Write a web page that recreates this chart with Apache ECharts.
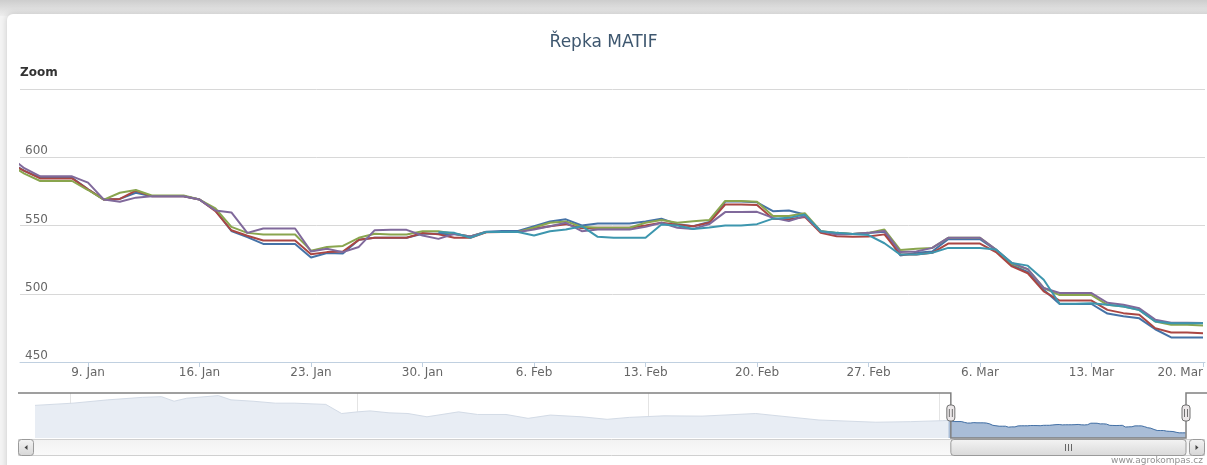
<!DOCTYPE html>
<html><head><meta charset="utf-8">
<script src="https://cdn.jsdelivr.net/npm/echarts@6/dist/echarts.min.js"></script>
<style>html,body{margin:0;padding:0;background:#fff;}#c{width:1207px;height:465px;}</style>
</head><body><div id="c"></div><script>
// ---- data ----
const dates = ['2023-01-04','2023-01-05','2023-01-06','2023-01-07','2023-01-08','2023-01-09','2023-01-10','2023-01-11','2023-01-12','2023-01-13',
'2023-01-14','2023-01-15','2023-01-16','2023-01-17','2023-01-18','2023-01-19','2023-01-20','2023-01-21','2023-01-22','2023-01-23',
'2023-01-24','2023-01-25','2023-01-26','2023-01-27','2023-01-28','2023-01-29','2023-01-30','2023-01-31','2023-02-01','2023-02-02',
'2023-02-03','2023-02-04','2023-02-05','2023-02-06','2023-02-07','2023-02-08','2023-02-09','2023-02-10','2023-02-11','2023-02-12',
'2023-02-13','2023-02-14','2023-02-15','2023-02-16','2023-02-17','2023-02-18','2023-02-19','2023-02-20','2023-02-21','2023-02-22',
'2023-02-23','2023-02-24','2023-02-25','2023-02-26','2023-02-27','2023-02-28','2023-03-01','2023-03-02','2023-03-03','2023-03-04',
'2023-03-05','2023-03-06','2023-03-07','2023-03-08','2023-03-09','2023-03-10','2023-03-11','2023-03-12','2023-03-13','2023-03-14',
'2023-03-15','2023-03-16','2023-03-17','2023-03-18','2023-03-19','2023-03-20'];

const blue = [597,590,585,585,585,576.5,569,569.5,574,571.5,
571.5,571.5,569,561,546,541.5,536.5,536.5,536.5,526.5,
529.8,529.5,539.5,541,541,541,544,544,543.5,542,
545.5,546,546,549.5,553,554.5,550,551.5,551.5,551.5,
553,555,551,549.5,552.5,567.5,567.5,567,560.5,561,
558,545.5,544.5,543.8,544.5,545.5,528,530,531,540,
540,540,532,521,516,503,492.5,492.5,492.5,485.5,
483.5,482,474,468,468,468];

const red = [596,590,584.5,584.5,584.5,576.5,569,569.5,575.5,571.5,
571.5,571.5,569,560.5,546.5,542.5,539,539,539,529,
530.5,531,539.5,541,541,541,544.5,543.5,541,541,
545,545.3,545.3,547.8,549.5,551,548,548.3,548.3,548.3,
550,552,550.5,549.5,552,565.4,565.4,565,555,554.6,
556.3,544.6,542.2,541.7,542,543.5,528.7,528.7,530,536.8,
536.8,536.8,530.5,520,515,501.7,495,495,495,488.2,
485.8,484.6,474.8,471.6,471.6,471];

const green = [595,588,582.6,582.6,582.6,576,569,574,576,572,
572,572,569,562.6,549,544.6,543.4,543.4,543.4,531.6,
534.3,535,541,543.9,543.4,543.4,545.8,545.8,544,542,
545.3,545.3,545.3,548.5,552,553,549,548.3,548.3,548.3,
552,554,552,553.2,554,568,568,567.4,556.9,557,
559,546,544.6,543.8,544.6,547,532,532.9,533.6,541,
541,541,532.4,522,518,504.2,499,499,499,491.9,
490.7,488.2,479.7,477.2,477.2,476.8];

const purple = [601,592,586,586,586,581.4,569,567.4,570.4,571.5,
571.5,571.5,569,561,559.6,544.6,547.8,547.8,547.8,531,
532.9,530.5,534.3,546.6,546.8,546.8,542.7,540.2,544,542,
545.3,545.3,545.3,547,549.5,552,545.8,547,547,547,
549,552,548.3,547.5,551,559.8,559.8,560,555.6,553.2,
557,545.8,543.4,543.8,544.6,546,530.5,531,533.6,541,
541,541,532.4,522.6,518,504.2,500.5,500.5,500.5,493.4,
492,489.4,481,478.8,478.8,478.5];

const cyan = [null,null,null,null,null,null,null,null,null,null,
null,null,null,null,null,null,null,null,null,null,
null,null,null,null,null,null,null,545.3,544.6,541,
545.3,545.3,545.3,542.7,545.8,547,549.5,541.7,541,541,
541,550.7,550,547.5,548.5,550,550,551,555,555.6,
558,545.8,544.6,543.8,543,537,528.7,528.7,530,533.6,
533.6,533.6,532.4,522.6,520.6,510.3,492.7,492.7,493,491.9,
490.7,488,479.7,478.4,478.4,478.4];

const seriesNames = ['Kontrakt 1','Kontrakt 2','Kontrakt 3','Kontrakt 4','Kontrakt 5'];

const xTickDates = ['2023-01-09','2023-01-16','2023-01-23','2023-01-30','2023-02-06','2023-02-13','2023-02-20','2023-02-27','2023-03-06','2023-03-13','2023-03-20'];
const xTickLabels = ['9. Jan','16. Jan','23. Jan','30. Jan','6. Feb','13. Feb','20. Feb','27. Feb','6. Mar','13. Mar','20. Mar'];

// navigator history (first series before the zoomed window)
const navDates = ['2022-03-21','2022-04-02','2022-04-13','2022-04-24','2022-04-30','2022-05-04','2022-05-08','2022-05-18','2022-05-22','2022-05-29',
'2022-06-05','2022-06-11','2022-06-21','2022-06-26','2022-07-01','2022-07-05','2022-07-11','2022-07-17','2022-07-23','2022-08-02',
'2022-08-08','2022-08-17','2022-08-24','2022-08-31','2022-09-10','2022-09-18','2022-09-25','2022-10-06','2022-10-18','2022-11-04',
'2022-11-12','2022-11-24','2022-12-12','2022-12-23','2023-01-02'];
const navValues = [752,775,809,835,842,795,826,853,809,795,
775,775,762,668,685,695,675,668,634,685,
658,658,618,652,634,608,628,644,641,668,
641,601,578,584,594];
const navTickDates = ['2022-04-01','2022-07-01','2022-10-01','2023-01-01'];
const navTickLabels = ["Apr '22","Jul '22","Oct '22","Jan '23"];

// ---- helpers ----
function ts(s){ const p=s.split('T'); const d=p[0].split('-').map(Number); let h=0,m=0; if(p[1]){const t=p[1].split(':').map(Number);h=t[0];m=t[1];} return Date.UTC(d[0],d[1]-1,d[2],h,m); }
const X = dates.map(ts);
const xMin = ts('2023-01-04T17:30'), xMax = ts('2023-03-20T03:00');
const navMin = ts('2022-03-21'), navMax = xMax;
const xTickTs = xTickDates.map(ts), navTickTs = navTickDates.map(ts);
function lookup(arr, labels, v){ for(let i=0;i<arr.length;i++){ if(Math.abs(arr[i]-v)<60000) return labels[i]; } return ''; }
const pair = vals => X.map((x,i)=>[x, vals[i]]);

const colors = ['#4572A7','#AA4643','#89A54E','#80699B','#3D96AE'];
const FONT = '"DejaVu Sans", "Lucida Grande", sans-serif';
const lineSeries = [blue,red,green,purple,cyan].map((v,i)=>({
  name: seriesNames[i], type:'line', xAxisIndex:0, yAxisIndex:0, data: pair(v),
  showSymbol:false, symbol:'none', connectNulls:false, clip:true,
  lineStyle:{width:2, color:colors[i]}, itemStyle:{color:colors[i]},
  emphasis:{disabled:true}, z: 3+i
}));
const navAll = navDates.map((d,i)=>[ts(d), navValues[i]]).concat(pair(blue));

const chart = echarts.init(document.getElementById('c'), null, {renderer:'canvas'});
chart.setOption({
  animation:false,
  textStyle:{fontFamily:FONT},
  title:{text:'Řepka MATIF', left:'center', top:29, textStyle:{color:'#3E576F', fontSize:17, fontWeight:'normal', fontFamily:FONT}},
  grid:[
    {left:20, top:89, width:1185, height:273, outerBoundsMode:'none', containLabel:false},
    {left:35, top:393, width:1151, height:45, outerBoundsMode:'none', containLabel:false}
  ],
  xAxis:[
    {type:'value', gridIndex:0, min:xMin, max:xMax, scale:true,
     axisLine:{show:true, lineStyle:{color:'#C0D0E0', width:1}},
     axisTick:{show:true, length:5, lineStyle:{color:'#C0D0E0'}, customValues:xTickTs},
     axisLabel:{customValues:xTickTs, formatter:v=>lookup(xTickTs,xTickLabels,v), color:'#666', fontSize:12, margin:5, fontFamily:FONT, hideOverlap:false, alignMaxLabel:'right'},
     splitLine:{show:false}},
    {type:'value', gridIndex:1, min:navMin, max:navMax, scale:true,
     axisLine:{show:false}, axisTick:{show:false, customValues:navTickTs},
     axisLabel:{inside:true, customValues:navTickTs, formatter:v=>lookup(navTickTs,navTickLabels,v), align:'left', verticalAlign:'bottom', margin:3, padding:[0,0,0,3], color:'#555', fontSize:11, fontFamily:FONT, hideOverlap:false},
     splitLine:{show:true, lineStyle:{color:'#e4e4e4', width:1}}}
  ],
  yAxis:[
    {type:'value', gridIndex:0, min:450, max:650, interval:50,
     axisLine:{show:false}, axisTick:{show:false},
     axisLabel:{inside:true, align:'left', verticalAlign:'bottom', margin:5, color:'#666', fontSize:12, fontFamily:FONT, formatter:v=> v===650?'':String(v)},
     splitLine:{show:true, lineStyle:{color:'#D8D8D8', width:1}}},
    {type:'value', gridIndex:1, min:415, max:880, show:false, splitLine:{show:false}}
  ],
  series: lineSeries.concat([
    {name:'nav', type:'line', xAxisIndex:1, yAxisIndex:1, data:navAll, showSymbol:false, symbol:'none',
     lineStyle:{width:1, color:'#d3dbe6'}, areaStyle:{color:'#e8edf4', opacity:1}, emphasis:{disabled:true}, z:1},
    {name:'navSel', type:'line', xAxisIndex:1, yAxisIndex:1, data:pair(blue), showSymbol:false, symbol:'none',
     lineStyle:{width:1, color:'#4572A7'}, areaStyle:{color:'#a9bdd7', opacity:1}, emphasis:{disabled:true}, z:2}
  ])
});

const hl = chart.convertToPixel({xAxisIndex:1}, xMin);
const hr = chart.convertToPixel({xAxisIndex:1}, xMax);
const navTop = 393, navBot = 438, sbTop = 439, sbBot = 455;
const g = [];
g.push({type:'rect', z:-20, shape:{x:0,y:0,width:1207,height:465}, style:{fill:'#f4f4f4'}});
g.push({type:'rect', z:-19, shape:{x:0,y:0,width:1207,height:16}, style:{fill:new echarts.graphic.LinearGradient(0,0,0,1,[{offset:0,color:'#cdcdcd'},{offset:1,color:'#efefef'}])}});
g.push({type:'rect', z:-18, shape:{x:7,y:14,width:1230,height:480,r:6}, style:{fill:'#ffffff', shadowBlur:6, shadowColor:'rgba(0,0,0,0.18)'}});
g.push({type:'text', z:10, x:20, y:73, style:{text:'Zoom', fill:'#333', font:'bold 12px '+FONT, textVerticalAlign:'middle'}});
g.push({type:'polyline', z:20, shape:{points:[[18,navTop],[hl,navTop],[hl,navBot],[hr,navBot],[hr,navTop],[1207,navTop]]}, style:{stroke:'#808080', lineWidth:1.5, fill:null}});
g.push({type:'rect', z:15, shape:{x:18.5,y:sbTop+0.5,width:1186,height:sbBot-sbTop}, style:{fill:new echarts.graphic.LinearGradient(0,0,0,1,[{offset:0,color:'#f2f2f2'},{offset:1,color:'#fafafa'}]), stroke:'#d0d0d0', lineWidth:1}});
g.push({type:'rect', z:16, shape:{x:hl,y:sbTop+0.5,width:hr-hl,height:sbBot-sbTop,r:3}, style:{fill:new echarts.graphic.LinearGradient(0,0,0,1,[{offset:0,color:'#f4f4f4'},{offset:1,color:'#d9d9d9'}]), stroke:'#9a9a9a', lineWidth:1}});
const gc = Math.round((hl+hr)/2);
[-3,0,3].forEach(d=>g.push({type:'line', z:17, shape:{x1:gc+d+0.5,y1:sbTop+5,x2:gc+d+0.5,y2:sbBot-4}, style:{stroke:'#666', lineWidth:1}}));
function btn(x, dir){
  g.push({type:'rect', z:18, shape:{x:x+0.5,y:sbTop+0.5,width:15,height:sbBot-sbTop,r:3}, style:{fill:new echarts.graphic.LinearGradient(0,0,0,1,[{offset:0,color:'#f4f4f4'},{offset:1,color:'#d6d6d6'}]), stroke:'#9a9a9a', lineWidth:1}});
  const cx = x+8, cy=(sbTop+sbBot)/2+0.5;
  const pts = dir<0 ? [[cx+1.5,cy-2.5],[cx+1.5,cy+2.5],[cx-1.5,cy]] : [[cx-1.5,cy-2.5],[cx-1.5,cy+2.5],[cx+1.5,cy]];
  g.push({type:'polygon', z:19, shape:{points:pts}, style:{fill:'#444'}});
}
btn(18,-1); btn(1189,1);
function handle(x){
  g.push({type:'rect', z:21, shape:{x:x-4,y:405,width:8,height:16,r:3}, style:{fill:'#ebe7e8', stroke:'#707070', lineWidth:1}});
  g.push({type:'line', z:22, shape:{x1:x-1.5,y1:409,x2:x-1.5,y2:417}, style:{stroke:'#707070', lineWidth:1}});
  g.push({type:'line', z:22, shape:{x1:x+1.5,y1:409,x2:x+1.5,y2:417}, style:{stroke:'#707070', lineWidth:1}});
}
handle(hl); handle(hr);
g.push({type:'text', z:10, x:1203, y:461, style:{text:'www.agrokompas.cz', fill:'#909090', font:'9px '+FONT, textAlign:'right', textVerticalAlign:'middle'}});
chart.setOption({graphic:{elements:g}});
</script></body></html>
